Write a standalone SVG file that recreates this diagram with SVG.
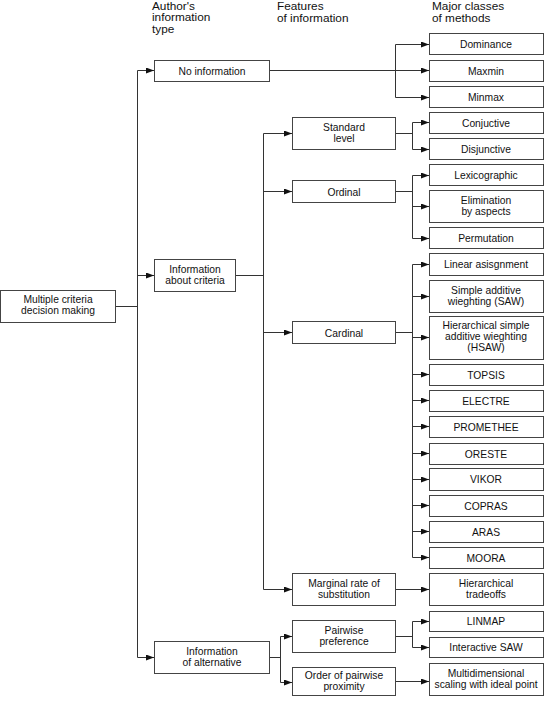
<svg xmlns="http://www.w3.org/2000/svg" width="544" height="705" viewBox="0 0 544 705">
<style>
.box{fill:#fff;stroke:#444;stroke-width:1}
.t{font-family:"Liberation Sans",Arial,sans-serif;font-size:10.3px;fill:#111;text-anchor:middle}
.h{font-family:"Liberation Sans",Arial,sans-serif;font-size:11.8px;fill:#111}
.c{fill:none;stroke:#333;stroke-width:1}
.a{fill:none;stroke:#333;stroke-width:1;marker-end:url(#ah)}
</style>
<defs>
<marker id="ah" markerUnits="userSpaceOnUse" markerWidth="9" markerHeight="6" refX="8" refY="3" orient="auto">
<path d="M0,0 L8,3 L0,6 z" fill="#111"/>
</marker>
</defs>
<rect width="544" height="705" fill="#fff"/>
<g id="headers">
<text class="h" x="152" y="9.5">Author's</text>
<text class="h" x="152" y="21">information</text>
<text class="h" x="152" y="32.5">type</text>
<text class="h" x="277" y="9.5">Features</text>
<text class="h" x="277" y="21.5">of information</text>
<text class="h" x="432" y="9.5">Major classes</text>
<text class="h" x="432" y="21.5">of methods</text>
</g>
<g id="connectors">
<path class="c" d="M115,306.5 H137.5 M137.5,70.5 V657.5"/>
<path class="a" d="M137.5,70.5 H154"/>
<path class="a" d="M137.5,275.5 H154"/>
<path class="a" d="M137.5,657.5 H154"/>
<path class="a" d="M269,70.5 H429"/>
<path class="c" d="M395.5,44.5 V97.5"/>
<path class="a" d="M395.5,44.5 H429"/>
<path class="a" d="M395.5,97.5 H429"/>
<path class="c" d="M235,275.5 H263.5 M263.5,133.5 V589.5"/>
<path class="a" d="M263.5,133.5 H292"/>
<path class="a" d="M263.5,191.5 H292"/>
<path class="a" d="M263.5,332.5 H292"/>
<path class="a" d="M263.5,589.5 H292"/>
<path class="c" d="M395,133.5 H412.5 M412.5,122.5 V149.5"/>
<path class="a" d="M412.5,122.5 H429"/>
<path class="a" d="M412.5,149.5 H429"/>
<path class="c" d="M395,191.5 H412.5 M412.5,175.5 V238.5"/>
<path class="a" d="M412.5,175.5 H429"/>
<path class="a" d="M412.5,206.5 H429"/>
<path class="a" d="M412.5,238.5 H429"/>
<path class="c" d="M395,332.5 H412.5 M412.5,264.5 V557.5"/>
<path class="a" d="M412.5,264.5 H429"/>
<path class="a" d="M412.5,296.5 H429"/>
<path class="a" d="M412.5,337.5 H429"/>
<path class="a" d="M412.5,374.5 H429"/>
<path class="a" d="M412.5,400.5 H429"/>
<path class="a" d="M412.5,426.5 H429"/>
<path class="a" d="M412.5,453.5 H429"/>
<path class="a" d="M412.5,479.5 H429"/>
<path class="a" d="M412.5,505.5 H429"/>
<path class="a" d="M412.5,531.5 H429"/>
<path class="a" d="M412.5,557.5 H429"/>
<path class="a" d="M395,589.5 H429"/>
<path class="c" d="M269,657.5 H280.5 M280.5,636.5 V682.5"/>
<path class="a" d="M280.5,636.5 H292"/>
<path class="a" d="M280.5,682.5 H292"/>
<path class="c" d="M395,636.5 H412.5 M412.5,621.5 V647.5"/>
<path class="a" d="M412.5,621.5 H429"/>
<path class="a" d="M412.5,647.5 H429"/>
<path class="a" d="M395,681.5 H429"/>
</g>
<g id="mcdm"><rect class="box" x="0.5" y="290.5" width="115" height="32"/><text class="t" x="58" y="303">Multiple criteria</text><text class="t" x="58" y="314">decision making</text></g>
<g id="no-info"><rect class="box" x="154.5" y="60.5" width="115" height="21"/><text class="t" x="212" y="74.5">No information</text></g>
<g id="info-criteria"><rect class="box" x="154.5" y="259.5" width="81" height="32"/><text class="t" x="195" y="273">Information</text><text class="t" x="195" y="284">about criteria</text></g>
<g id="info-alt"><rect class="box" x="154.5" y="641.5" width="115" height="32"/><text class="t" x="212" y="655">Information</text><text class="t" x="212" y="666">of alternative</text></g>
<g id="standard"><rect class="box" x="292.5" y="117.5" width="103" height="32"/><text class="t" x="344" y="131">Standard</text><text class="t" x="344" y="142">level</text></g>
<g id="ordinal"><rect class="box" x="292.5" y="180.5" width="103" height="22"/><text class="t" x="344" y="195.5">Ordinal</text></g>
<g id="cardinal"><rect class="box" x="292.5" y="321.5" width="103" height="22"/><text class="t" x="344" y="336.5">Cardinal</text></g>
<g id="marginal"><rect class="box" x="292.5" y="573.5" width="103" height="32"/><text class="t" x="344" y="587">Marginal rate of</text><text class="t" x="344" y="598">substitution</text></g>
<g id="pairwise"><rect class="box" x="292.5" y="620.5" width="103" height="32"/><text class="t" x="344" y="634">Pairwise</text><text class="t" x="344" y="645">preference</text></g>
<g id="order"><rect class="box" x="292.5" y="667.5" width="103" height="28"/><text class="t" x="344" y="679">Order of pairwise</text><text class="t" x="344" y="690">proximity</text></g>
<g id="dominance"><rect class="box" x="429.5" y="33.5" width="114" height="21"/><text class="t" x="486" y="47.5">Dominance</text></g>
<g id="maxmin"><rect class="box" x="429.5" y="60.5" width="114" height="21"/><text class="t" x="486" y="74.5">Maxmin</text></g>
<g id="minmax"><rect class="box" x="429.5" y="86.5" width="114" height="21"/><text class="t" x="486" y="100.5">Minmax</text></g>
<g id="conjuctive"><rect class="box" x="429.5" y="112.5" width="114" height="21"/><text class="t" x="486" y="126.5">Conjuctive</text></g>
<g id="disjunctive"><rect class="box" x="429.5" y="138.5" width="114" height="21"/><text class="t" x="486" y="152.5">Disjunctive</text></g>
<g id="lexicographic"><rect class="box" x="429.5" y="164.5" width="114" height="21"/><text class="t" x="486" y="178.5">Lexicographic</text></g>
<g id="elimination"><rect class="box" x="429.5" y="190.5" width="114" height="32"/><text class="t" x="486" y="204">Elimination</text><text class="t" x="486" y="215">by aspects</text></g>
<g id="permutation"><rect class="box" x="429.5" y="227.5" width="114" height="21"/><text class="t" x="486" y="241.5">Permutation</text></g>
<g id="linear"><rect class="box" x="429.5" y="253.5" width="114" height="22"/><text class="t" x="486" y="268">Linear asisgnment</text></g>
<g id="saw"><rect class="box" x="429.5" y="280.5" width="114" height="32"/><text class="t" x="486" y="294">Simple additive</text><text class="t" x="486" y="305">wieghting (SAW)</text></g>
<g id="hsaw"><rect class="box" x="429.5" y="316.5" width="114" height="43"/><text class="t" x="486" y="329">Hierarchical simple</text><text class="t" x="486" y="340">additive wieghting</text><text class="t" x="486" y="351">(HSAW)</text></g>
<g id="topsis"><rect class="box" x="429.5" y="364.5" width="114" height="21"/><text class="t" x="486" y="378.5">TOPSIS</text></g>
<g id="electre"><rect class="box" x="429.5" y="390.5" width="114" height="21"/><text class="t" x="486" y="404.5">ELECTRE</text></g>
<g id="promethee"><rect class="box" x="429.5" y="416.5" width="114" height="21"/><text class="t" x="486" y="430.5">PROMETHEE</text></g>
<g id="oreste"><rect class="box" x="429.5" y="443.5" width="114" height="21"/><text class="t" x="486" y="457.5">ORESTE</text></g>
<g id="vikor"><rect class="box" x="429.5" y="468.5" width="114" height="22"/><text class="t" x="486" y="483">VIKOR</text></g>
<g id="copras"><rect class="box" x="429.5" y="495.5" width="114" height="21"/><text class="t" x="486" y="509.5">COPRAS</text></g>
<g id="aras"><rect class="box" x="429.5" y="521.5" width="114" height="21"/><text class="t" x="486" y="535.5">ARAS</text></g>
<g id="moora"><rect class="box" x="429.5" y="547.5" width="114" height="21"/><text class="t" x="486" y="561.5">MOORA</text></g>
<g id="tradeoffs"><rect class="box" x="429.5" y="573.5" width="114" height="32"/><text class="t" x="486" y="587">Hierarchical</text><text class="t" x="486" y="598">tradeoffs</text></g>
<g id="linmap"><rect class="box" x="429.5" y="611.5" width="114" height="20"/><text class="t" x="486" y="625">LINMAP</text></g>
<g id="isaw"><rect class="box" x="429.5" y="637.5" width="114" height="20"/><text class="t" x="486" y="651">Interactive SAW</text></g>
<g id="mds"><rect class="box" x="429.5" y="663.5" width="114" height="32"/><text class="t" x="486" y="677">Multidimensional</text><text class="t" x="486" y="688">scaling with ideal point</text></g>
</svg>
